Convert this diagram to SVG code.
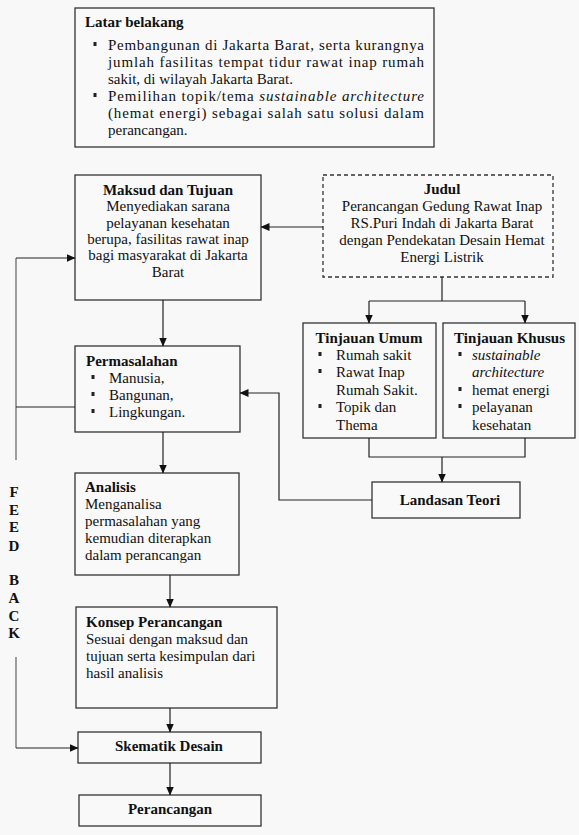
<svg xmlns="http://www.w3.org/2000/svg" width="579" height="835" viewBox="0 0 579 835">
<defs>
<marker id="ah" markerWidth="9" markerHeight="8" refX="8.5" refY="4" orient="auto" markerUnits="userSpaceOnUse">
<path d="M0,0 L9,4 L0,8 z" fill="#111"/>
</marker>
<style>
.box{fill:#f9f9f9;stroke:#333;stroke-width:1.3}
.dash{fill:#f9f9f9;stroke:#333;stroke-width:1.3;stroke-dasharray:4,3}
.ln{fill:none;stroke:#222;stroke-width:1.2}
.fb{fill:none;stroke:#777;stroke-width:1.4}
.arr{fill:none;stroke:#222;stroke-width:1.2;marker-end:url(#ah)}
text{font-family:"Liberation Serif","Times New Roman",serif;font-size:15px;fill:#111}
.b{font-weight:bold}
.c{text-anchor:middle}
.i{font-style:italic}
.bul{fill:#222}
</style>
</defs>
<rect x="0" y="0" width="579" height="835" fill="#f8f8f8"/>

<g id="latar">
<rect class="box" x="75" y="8" width="359" height="139"/>
<text class="b" x="85" y="27">Latar belakang</text>
<rect class="bul" x="93.5" y="42" width="3" height="4"/>
<text x="108" y="50" textLength="316" lengthAdjust="spacing">Pembangunan di Jakarta Barat, serta kurangnya</text>
<text x="108" y="67" textLength="316" lengthAdjust="spacing">jumlah fasilitas tempat tidur rawat inap rumah</text>
<text x="108" y="84">sakit, di wilayah Jakarta Barat.</text>
<rect class="bul" x="93.5" y="93" width="3" height="4"/>
<text x="108" y="101" textLength="316" lengthAdjust="spacing">Pemilihan topik/tema <tspan class="i">sustainable architecture</tspan></text>
<text x="108" y="118" textLength="316" lengthAdjust="spacing">(hemat energi) sebagai salah satu solusi dalam</text>
<text x="108" y="135">perancangan.</text>
</g>

<g id="maksud">
<rect class="box" x="75" y="175" width="186" height="125"/>
<text class="b c" x="168" y="195">Maksud dan Tujuan</text>
<text class="c" x="168" y="211">Menyediakan sarana</text>
<text class="c" x="168" y="228">pelayanan kesehatan</text>
<text class="c" x="168" y="244">berupa, fasilitas rawat inap</text>
<text class="c" x="168" y="260">bagi masyarakat di Jakarta</text>
<text class="c" x="168" y="277">Barat</text>
</g>

<g id="judul">
<rect class="dash" x="323" y="175" width="230" height="102"/>
<text class="b c" x="442" y="194">Judul</text>
<text class="c" x="442" y="211">Perancangan Gedung Rawat Inap</text>
<text class="c" x="442" y="228">RS.Puri Indah di Jakarta Barat</text>
<text class="c" x="442" y="245">dengan Pendekatan Desain Hemat</text>
<text class="c" x="442" y="262">Energi Listrik</text>
</g>

<g id="tinjauan-umum">
<rect class="box" x="303" y="323" width="133" height="115"/>
<text class="b c" x="369" y="343">Tinjauan Umum</text>
<rect class="bul" x="318.5" y="352" width="3" height="4"/>
<text x="336" y="360">Rumah sakit</text>
<rect class="bul" x="318.5" y="369" width="3" height="4"/>
<text x="336" y="377">Rawat Inap</text>
<text x="336" y="395">Rumah Sakit.</text>
<rect class="bul" x="318.5" y="404" width="3" height="4"/>
<text x="336" y="412">Topik dan</text>
<text x="336" y="430">Thema</text>
</g>

<g id="tinjauan-khusus">
<rect class="box" x="443" y="323" width="132" height="115"/>
<text class="b" x="454" y="343">Tinjauan Khusus</text>
<rect class="bul" x="458.5" y="352" width="3" height="4"/>
<text class="i" x="472" y="360">sustainable</text>
<text class="i" x="472" y="377">architecture</text>
<rect class="bul" x="458.5" y="387" width="3" height="4"/>
<text x="472" y="395">hemat energi</text>
<rect class="bul" x="458.5" y="404" width="3" height="4"/>
<text x="472" y="412">pelayanan</text>
<text x="472" y="430">kesehatan</text>
</g>

<g id="landasan">
<rect class="box" x="372" y="482" width="148" height="36"/>
<text class="b c" x="450" y="505">Landasan Teori</text>
</g>

<g id="permasalahan">
<rect class="box" x="75" y="346" width="165" height="86"/>
<text class="b" x="86" y="366">Permasalahan</text>
<rect class="bul" x="91.5" y="375" width="3" height="4"/>
<text x="109" y="383">Manusia,</text>
<rect class="bul" x="91.5" y="392" width="3" height="4"/>
<text x="109" y="400">Bangunan,</text>
<rect class="bul" x="91.5" y="409" width="3" height="4"/>
<text x="109" y="417">Lingkungan.</text>
</g>

<g id="analisis">
<rect class="box" x="75" y="473" width="164" height="102"/>
<text class="b" x="85" y="492">Analisis</text>
<text x="85" y="509">Menganalisa</text>
<text x="85" y="526">permasalahan yang</text>
<text x="85" y="543">kemudian diterapkan</text>
<text x="85" y="560">dalam perancangan</text>
</g>

<g id="konsep">
<rect class="box" x="76" y="607" width="201" height="101"/>
<text class="b" x="86" y="627">Konsep Perancangan</text>
<text x="86" y="644">Sesuai dengan maksud dan</text>
<text x="86" y="661">tujuan serta kesimpulan dari</text>
<text x="86" y="678">hasil analisis</text>
</g>

<g id="skematik">
<rect class="box" x="78" y="732" width="183" height="31"/>
<text class="b c" x="169" y="751">Skematik Desain</text>
</g>

<g id="perancangan">
<rect class="box" x="79" y="795" width="182" height="31"/>
<text class="b c" x="170" y="814">Perancangan</text>
</g>

<g id="feedback-label">
<text class="b c" x="14" y="497">F</text>
<text class="b c" x="14" y="515">E</text>
<text class="b c" x="14" y="532">E</text>
<text class="b c" x="14" y="551">D</text>
<text class="b c" x="14" y="585">B</text>
<text class="b c" x="14" y="603">A</text>
<text class="b c" x="14" y="621">C</text>
<text class="b c" x="14" y="638">K</text>
</g>

<g id="connectors">
<path class="arr" d="M323,227 H261"/>
<path class="ln" d="M442,277 V301 M369,301 H525"/>
<path class="arr" d="M369,301 V323"/>
<path class="arr" d="M525,301 V323"/>
<path class="ln" d="M369,438 V457 H525 V438"/>
<path class="arr" d="M442,457 V482"/>
<path class="arr" d="M372,500 H279 V393 H240"/>
<path class="arr" d="M163,300 V346"/>
<path class="arr" d="M163,432 V473"/>
<path class="arr" d="M170,575 V607"/>
<path class="arr" d="M170,708 V732"/>
<path class="arr" d="M170,763 V795"/>
<path class="fb" d="M16,460 V258"/>
<path class="arr" d="M16,258 H75"/>
<path class="ln" d="M16,407 H75"/>
<path class="fb" d="M16,657 V748"/>
<path class="arr" d="M16,748 H78"/>
</g>
</svg>
